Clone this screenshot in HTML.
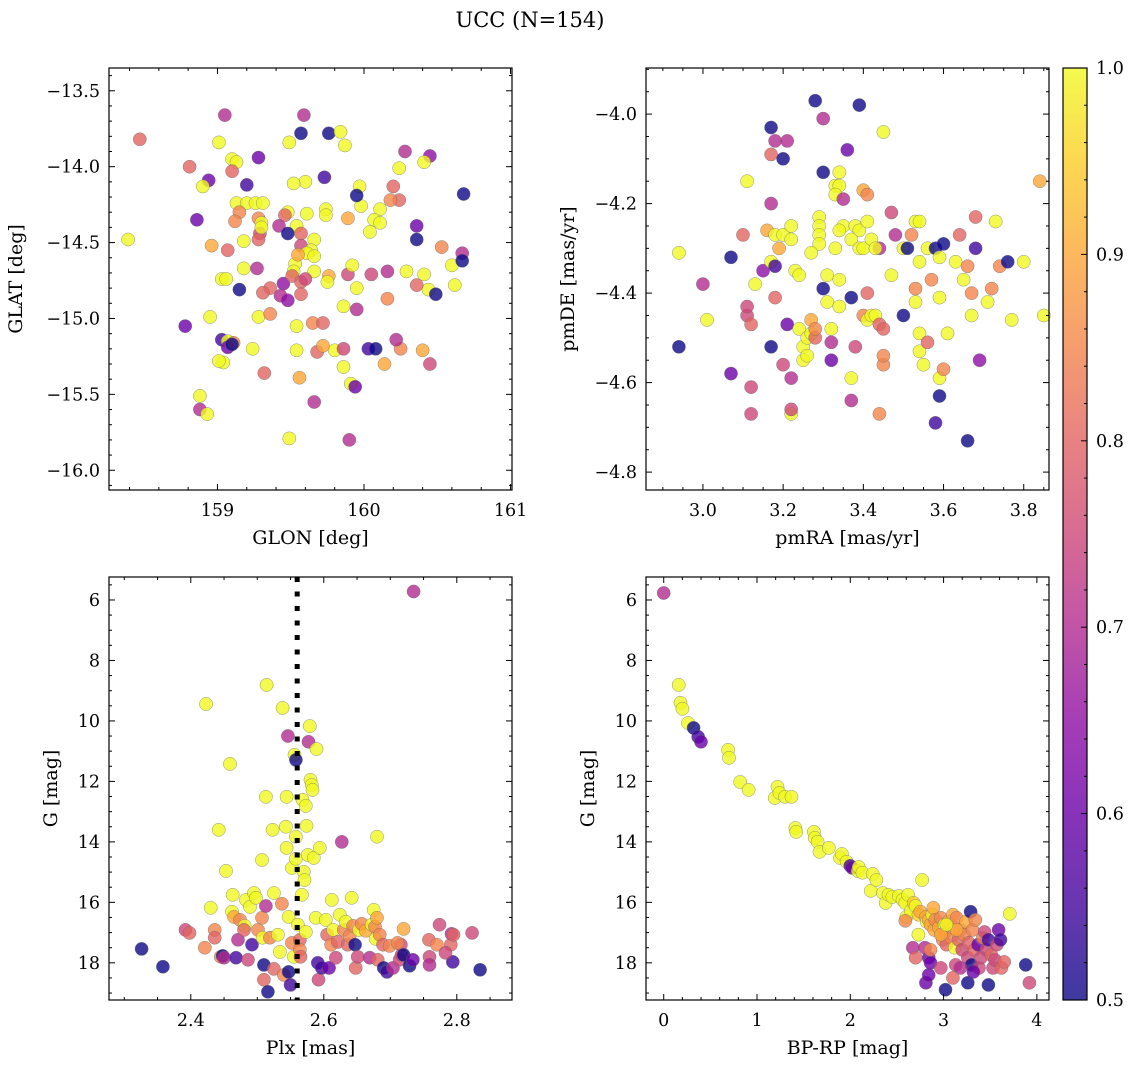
<!DOCTYPE html>
<html><head><meta charset="utf-8"><style>
html,body{margin:0;padding:0;background:#fff;}
svg{display:block;font-family:"DejaVu Serif","Liberation Serif",serif;}
</style></head><body>
<svg id="fig" width="1136" height="1067" viewBox="0 0 1136 1067" xmlns="http://www.w3.org/2000/svg">
<defs>
<linearGradient id="plasmaGrad" x1="0" y1="1" x2="0" y2="0">
<stop offset="0" stop-color="#0d0887"/><stop offset="0.1" stop-color="#41049d"/><stop offset="0.2" stop-color="#6a00a8"/><stop offset="0.3" stop-color="#8f0da4"/><stop offset="0.4" stop-color="#b12a90"/><stop offset="0.5" stop-color="#cc4778"/><stop offset="0.6" stop-color="#e16462"/><stop offset="0.7" stop-color="#f2844b"/><stop offset="0.8" stop-color="#fca636"/><stop offset="0.9" stop-color="#fcce25"/><stop offset="1" stop-color="#f0f921"/>
</linearGradient>
</defs>
<text x="530" y="27" text-anchor="middle" font-size="21">UCC (N=154)</text>
</svg>
<script>
// Panel 1: GLON / GLAT
const p1Lon=[158.47,158.39,158.81,159.05,159.01,159.59,159.57,159.76,159.84,159.87,
159.49,159.28,159.10,159.13,159.10,158.94,158.90,159.20,160.28,160.45,
160.41,160.24,160.24,160.11,159.98,159.97,159.95,159.73,159.60,159.52,
159.61,159.74,159.74,159.89,160.07,160.04,160.18,160.20,158.86,159.13,
159.20,159.26,159.31,159.15,159.28,159.30,159.12,159.29,159.28,159.18,
159.07,158.96,159.03,159.06,159.48,159.46,159.42,159.54,159.48,159.57,
159.57,159.66,159.64,159.61,159.53,159.52,159.66,159.66,160.36,160.36,
160.68,160.53,159.18,159.27,159.15,159.36,159.31,159.45,159.43,159.51,
159.57,159.57,159.60,159.76,159.75,159.89,159.92,159.95,160.05,160.29,
160.41,160.60,160.67,160.67,159.86,159.95,160.16,160.44,160.62,160.49,
159.28,159.36,159.54,159.65,159.72,158.78,158.95,159.03,159.07,159.07,
159.11,159.04,159.01,159.24,159.32,159.54,159.56,159.66,159.68,159.80,
159.86,160.03,160.08,160.14,160.25,160.22,160.40,160.45,159.86,158.88,
158.88,158.93,159.49,159.90,159.91,159.94,160.16,159.30,160.11,159.55,
159.48,159.72,160.36,159.10];
const p1Lat=[-13.82,-14.48,-14.00,-13.66,-13.84,-13.66,-13.78,-13.78,-13.77,-13.86,
-13.84,-13.94,-13.95,-13.97,-14.03,-14.09,-14.13,-14.12,-13.90,-13.93,
-13.97,-14.01,-14.22,-14.28,-14.26,-14.13,-14.19,-14.07,-14.10,-14.11,
-14.31,-14.28,-14.32,-14.34,-14.35,-14.43,-14.22,-14.13,-14.35,-14.24,
-14.24,-14.24,-14.24,-14.30,-14.34,-14.37,-14.36,-14.44,-14.48,-14.49,
-14.55,-14.52,-14.74,-14.74,-14.30,-14.32,-14.39,-14.39,-14.44,-14.44,
-14.52,-14.48,-14.55,-14.57,-14.64,-14.69,-14.59,-14.69,-14.39,-14.48,
-14.18,-14.53,-14.67,-14.67,-14.81,-14.80,-14.83,-14.77,-14.85,-14.72,
-14.76,-14.84,-14.74,-14.72,-14.76,-14.71,-14.65,-14.80,-14.71,-14.69,
-14.71,-14.65,-14.57,-14.62,-14.92,-14.94,-14.87,-14.81,-14.78,-14.84,
-14.99,-14.97,-15.05,-15.03,-15.03,-15.05,-14.99,-15.14,-15.15,-15.19,
-15.16,-15.29,-15.28,-15.20,-15.36,-15.21,-15.39,-15.55,-15.22,-15.21,
-15.20,-15.20,-15.20,-15.30,-15.20,-15.14,-15.21,-15.30,-15.32,-15.51,
-15.60,-15.63,-15.79,-15.80,-15.43,-15.45,-14.69,-14.40,-14.37,-14.58,
-14.88,-15.18,-14.78,-15.17];
const p1C=[0.8,1,0.8,0.7,1,0.7,0.5,0.5,1,1,
1,0.6,1,1,0.8,0.6,1,0.55,0.7,0.65,
1,1,0.8,1,1,1,0.5,0.55,1,1,
1,1,1,0.9,1,1,0.85,0.8,0.6,1,
1,1,1,0.85,0.85,1,0.85,0.75,0.8,1,
0.8,0.9,1,1,1,0.8,0.7,1,0.5,0.8,
0.75,1,1,1,1,1,1,1,0.6,0.5,
0.5,0.85,1,0.7,0.5,0.8,0.8,0.65,0.7,0.8,
0.8,0.8,0.75,0.9,1,0.75,1,1,0.75,1,
1,1,0.7,0.5,1,0.7,0.85,1,1,0.5,
1,0.85,1,0.85,0.8,0.6,1,0.55,1,0.6,
0.85,1,1,1,0.8,1,0.9,0.7,0.8,1,
0.75,0.55,0.5,0.9,0.85,0.7,0.9,0.75,1,1,
0.7,1,1,0.7,1,0.6,0.7,1,1,0.9,
0.65,0.9,0.8,0.5];

// Panel 2: pmRA / pmDE
const p2RA=[2.94,2.94,3.00,3.01,3.11,3.10,3.07,3.11,3.12,3.11,
3.12,3.12,3.07,3.17,3.17,3.18,3.20,3.21,3.17,3.16,
3.18,3.15,3.13,3.20,3.19,3.17,3.18,3.18,3.22,3.22,
3.23,3.24,3.21,3.17,3.20,3.22,3.22,3.22,3.24,3.25,
3.25,3.26,3.26,3.27,3.27,3.28,3.28,3.28,3.30,3.30,
3.29,3.29,3.29,3.29,3.27,3.31,3.30,3.31,3.32,3.32,
3.32,3.34,3.33,3.34,3.33,3.35,3.34,3.33,3.34,3.34,
3.35,3.36,3.38,3.39,3.37,3.39,3.38,3.37,3.37,3.37,
3.39,3.40,3.41,3.41,3.40,3.42,3.41,3.40,3.41,3.42,
3.43,3.44,3.43,3.44,3.45,3.45,3.45,3.45,3.47,3.48,
3.44,3.47,3.50,3.50,3.51,3.52,3.53,3.53,3.53,3.54,
3.54,3.54,3.54,3.55,3.56,3.56,3.57,3.58,3.59,3.59,
3.59,3.59,3.60,3.61,3.60,3.63,3.64,3.66,3.65,3.67,
3.68,3.67,3.68,3.69,3.71,3.72,3.73,3.74,3.76,3.77,
3.80,3.84,3.85,3.66,3.58];
const p2DE=[-4.31,-4.52,-4.38,-4.46,-4.15,-4.27,-4.32,-4.45,-4.47,-4.43,
-4.61,-4.67,-4.58,-4.03,-4.09,-4.06,-4.10,-4.06,-4.20,-4.26,
-4.27,-4.35,-4.38,-4.27,-4.30,-4.33,-4.34,-4.41,-4.25,-4.28,
-4.35,-4.36,-4.47,-4.52,-4.56,-4.59,-4.67,-4.66,-4.48,-4.52,
-4.55,-4.50,-4.54,-4.49,-4.46,-4.50,-4.48,-3.97,-4.01,-4.13,
-4.23,-4.25,-4.27,-4.29,-4.31,-4.36,-4.39,-4.42,-4.48,-4.51,
-4.55,-4.13,-4.16,-4.16,-4.18,-4.25,-4.26,-4.30,-4.37,-4.43,
-4.19,-4.08,-4.25,-4.26,-4.28,-4.30,-4.52,-4.64,-4.59,-4.41,
-3.98,-4.17,-4.18,-4.24,-4.30,-4.28,-4.40,-4.45,-4.46,-4.45,
-4.45,-4.30,-4.30,-4.47,-4.48,-4.04,-4.56,-4.54,-4.22,-4.27,
-4.67,-4.36,-4.30,-4.45,-4.30,-4.27,-4.24,-4.42,-4.39,-4.49,
-4.53,-4.24,-4.33,-4.56,-4.30,-4.51,-4.37,-4.30,-4.32,-4.41,
-4.59,-4.63,-4.57,-4.49,-4.29,-4.33,-4.27,-4.34,-4.37,-4.40,
-4.23,-4.45,-4.30,-4.55,-4.42,-4.39,-4.24,-4.34,-4.33,-4.46,
-4.33,-4.15,-4.45,-4.73,-4.69];
const p2C=[1,0.5,0.7,1,1,0.8,0.5,0.75,0.8,0.75,
0.75,0.75,0.6,0.5,0.8,0.7,0.5,0.7,0.7,0.9,
1,0.65,1,1,0.9,1,0.55,0.8,1,1,
1,1,0.6,0.5,0.75,0.7,1,0.75,1,1,
1,1,1,1,0.9,0.8,0.85,0.5,0.7,0.5,
1,1,1,1,1,1,0.5,1,1,0.7,
0.6,1,1,1,1,1,1,1,1,1,
0.7,0.6,1,1,1,1,0.75,0.7,1,0.5,
0.5,0.9,0.85,1,1,1,0.8,0.85,1,1,
1,0.7,1,0.8,0.8,1,0.85,0.85,0.75,0.7,
0.85,1,1,0.5,0.5,0.85,1,1,0.85,1,
1,1,1,1,1,0.8,0.85,0.5,1,1,
1,0.5,0.85,1,0.5,1,0.8,0.85,1,0.85,
0.8,1,0.55,0.65,1,0.85,1,0.85,0.5,1,
1,0.9,1,0.5,0.55];

// Panel 3: Plx / G
const p3Plx=[2.326,2.358,2.392,2.398,2.421,2.423,2.430,2.436,2.436,2.445,
2.442,2.448,2.450,2.453,2.459,2.463,2.468,2.471,2.462,2.465,
2.474,2.481,2.480,2.483,2.486,2.489,2.492,2.495,2.498,2.501,
2.507,2.507,2.510,2.513,2.514,2.513,2.508,2.510,2.516,2.519,
2.523,2.525,2.525,2.531,2.534,2.537,2.540,2.543,2.544,2.547,
2.538,2.546,2.544,2.547,2.550,2.552,2.555,2.556,2.552,2.558,
2.558,2.558,2.561,2.564,2.564,2.565,2.567,2.568,2.570,2.571,
2.573,2.574,2.573,2.576,2.577,2.579,2.580,2.582,2.583,2.585,
2.588,2.589,2.591,2.592,2.594,2.597,2.603,2.605,2.608,2.611,
2.612,2.614,2.618,2.621,2.624,2.627,2.630,2.633,2.636,2.639,
2.642,2.644,2.647,2.648,2.651,2.653,2.657,2.663,2.669,2.672,
2.675,2.677,2.678,2.680,2.680,2.681,2.684,2.689,2.690,2.695,
2.699,2.704,2.714,2.717,2.716,2.720,2.729,2.734,2.758,2.759,
2.759,2.770,2.774,2.791,2.792,2.794,2.795,2.835,2.735,2.823,
2.783,2.720,2.711];
const p3G=[17.54,18.13,16.91,17.01,17.50,9.44,16.18,16.91,17.17,17.80,
13.60,17.77,17.83,14.96,11.42,15.75,17.83,17.24,16.31,16.48,
16.58,16.78,16.91,15.92,17.90,16.15,17.40,15.69,15.85,16.91,
16.51,14.60,18.56,16.12,8.81,12.51,17.17,18.07,18.96,17.17,
13.60,15.69,18.20,17.07,17.64,16.05,18.40,13.50,14.20,16.48,
9.57,10.50,12.51,18.30,18.73,17.34,17.80,11.12,14.86,11.29,
13.83,14.56,16.74,17.24,17.57,17.80,15.75,12.61,14.99,15.26,
16.98,13.47,12.81,14.43,10.69,10.17,11.95,12.12,12.28,14.53,
16.51,10.93,18.00,18.56,14.20,18.17,16.58,17.07,18.17,17.40,
15.92,16.91,17.83,17.31,16.41,14.00,16.91,16.64,17.40,17.11,
15.85,16.78,17.40,18.17,17.80,16.91,16.71,16.94,17.83,16.74,
16.25,16.81,17.21,16.51,13.83,17.90,17.07,17.40,18.17,18.30,
17.44,18.17,17.90,17.74,17.40,17.74,18.10,17.90,17.24,17.80,
18.07,17.40,16.74,17.40,17.04,17.97,17.07,18.23,5.72,17.01,
17.67,16.88,17.34];
const p3C=[0.5,0.5,0.75,0.8,0.85,1,1,0.85,0.8,0.85,
1,0.5,0.7,1,1,1,0.55,0.7,1,0.9,
0.85,1,0.8,1,0.75,1,0.55,1,1,0.85,
0.85,1,0.8,0.7,1,1,1,0.5,0.5,0.85,
1,1,0.8,1,1,0.85,0.85,1,1,1,
1,0.7,1,0.5,0.55,0.85,1,1,1,0.5,
1,1,1,0.8,0.85,0.8,1,1,1,1,
1,1,1,1,0.7,1,1,1,1,1,
1,1,0.55,0.75,1,0.55,1,0.8,0.6,0.85,
1,1,0.75,0.8,1,0.7,0.85,1,0.8,0.85,
1,0.85,0.5,0.8,0.75,1,0.85,0.9,0.7,1,
1,0.85,1,0.9,1,0.8,0.85,0.8,0.5,0.55,
0.85,0.7,0.75,0.75,0.75,0.5,0.5,0.6,0.8,0.75,
0.7,0.85,0.75,0.8,0.7,0.55,0.8,0.5,0.7,0.75,
0.75,0.9,0.85];
const plxLine=[2.56];

// Panel 4: BP-RP / G
const p4BR=[0.00,0.16,0.18,0.20,0.26,0.32,0.37,0.40,0.69,0.70,
0.82,0.91,1.19,1.22,1.24,1.30,1.37,1.41,1.42,1.61,
1.62,1.65,1.67,1.77,1.89,1.91,1.96,2.00,2.02,2.08,
2.09,2.13,2.22,2.24,2.28,2.35,2.38,2.41,2.45,2.52,
2.56,2.59,2.60,2.62,2.65,2.68,2.70,2.73,2.75,2.77,
2.81,2.82,2.84,2.86,2.88,2.89,2.90,2.91,2.95,2.97,
2.98,2.99,3.01,3.02,3.03,3.05,3.08,3.10,3.11,3.12,
3.13,3.14,3.16,3.18,3.20,3.22,3.24,3.26,3.27,3.29,
3.30,3.31,3.33,3.34,3.37,3.38,3.40,3.42,3.44,3.46,
3.48,3.51,3.53,3.55,3.57,3.59,3.61,3.62,3.65,3.71,
3.88,3.92,2.84,2.86,3.02,2.81,2.80,2.67,2.70,2.84,
3.18,3.26,3.32,3.48,2.97,3.10,2.97,3.14,3.03,2.73,
2.59,2.86];
const p4G=[5.77,8.81,9.40,9.60,10.07,10.23,10.53,10.69,10.96,11.22,
12.02,12.28,12.55,12.18,12.38,12.51,12.51,13.54,13.67,13.67,
13.87,14.00,14.33,14.20,14.53,14.40,14.66,14.79,14.86,14.96,
14.83,15.02,15.62,15.06,15.26,15.69,16.02,15.75,15.82,15.79,
15.92,16.02,16.48,15.75,16.28,16.02,16.12,16.41,16.31,15.26,
16.48,16.64,16.58,16.74,16.41,16.18,16.91,16.58,16.84,16.51,
17.07,17.24,16.74,16.98,17.40,16.64,17.17,16.41,16.84,17.50,
18.07,16.51,17.24,16.91,17.57,17.07,16.64,17.83,17.34,16.31,
18.07,16.91,17.57,16.58,17.40,18.17,17.83,17.17,16.98,17.57,
17.24,17.74,18.17,17.90,17.40,16.91,17.24,18.17,17.97,16.38,
18.07,18.66,17.83,18.00,18.89,18.66,17.50,17.50,17.83,18.40,
18.17,18.66,18.30,18.73,18.17,18.50,17.07,16.91,16.74,17.07,
16.61,17.57];
const p4C=[0.7,1,1,1,1,0.5,0.55,0.6,1,1,
1,1,1,1,1,1,1,1,1,1,
1,1,1,1,1,1,1,0.55,0.6,1,
1,1,1,1,1,1,1,1,1,1,
1,1,1,1,1,0.95,1,0.95,0.9,1,
0.9,1,0.9,0.9,1,0.9,0.9,0.85,0.9,0.85,
0.9,0.85,1,0.85,0.8,0.9,0.85,0.9,0.9,1,
0.75,0.85,0.8,0.85,0.75,0.85,0.9,0.75,0.8,0.5,
0.5,0.85,0.8,0.85,0.6,0.75,0.75,0.85,0.75,0.75,
0.55,0.8,0.75,0.75,0.75,0.6,0.55,0.8,0.8,1,
0.5,0.75,0.6,0.6,0.5,0.6,0.7,0.7,0.8,0.6,
0.7,0.5,0.6,0.5,0.75,0.8,0.9,0.9,1,1,
0.85,0.85];

const cbTicks=[0.5,0.6,0.7,0.8,0.9,1.0];

const NS="http://www.w3.org/2000/svg";
const svg=document.getElementById('fig');
const plasma=[[13,8,135],[65,4,157],[106,0,168],[143,13,164],[177,42,144],[204,71,120],[225,100,98],[242,132,75],[252,166,54],[252,206,37],[240,249,33]];
function cmap(v){
  let t=(v-0.5)/0.5; t=Math.max(0,Math.min(1,t));
  const f=t*10, i=Math.min(9,Math.floor(f)), r=f-i;
  const a=plasma[i], b=plasma[i+1];
  return 'rgb('+a.map((x,k)=>Math.round(x+(b[k]-x)*r)).join(',')+')';
}
function mk(tag,attrs,parent){const e=document.createElementNS(NS,tag);for(const k in attrs)e.setAttribute(k,attrs[k]);(parent||svg).appendChild(e);return e;}
function fmt(v,d){const s=Math.abs(v).toFixed(d);return (v<-1e-9?'\u2212':'')+s;}

const panels=[
 {name:'sky',x0:109,x1:512,y0:68,y1:490,xmin:158.26,xmax:161.01,ytop:-13.35,ybot:-16.13,
  xs:p1Lon,ys:p1Lat,cs:p1C,xmaj:1,xmin_:0.2,xd:0,ymaj:0.5,ymin_:0.1,yd:1,xl:'GLON [deg]',yl:'GLAT [deg]',ylx:22},
 {name:'proper-motion',x0:646,x1:1049,y0:68,y1:490,xmin:2.858,xmax:3.863,ytop:-3.897,ybot:-4.84,
  xs:p2RA,ys:p2DE,cs:p2C,xmaj:0.2,xmin_:0.05,xd:1,ymaj:0.2,ymin_:0.05,yd:1,xl:'pmRA [mas/yr]',yl:'pmDE [mas/yr]',ylx:574},
 {name:'plx-mag',x0:109,x1:512,y0:577,y1:1000,xmin:2.277,xmax:2.883,ytop:5.24,ybot:19.23,
  xs:p3Plx,ys:p3G,cs:p3C,xmaj:0.2,xmin_:0.05,xd:1,ymaj:2,ymin_:0.5,yd:0,xl:'Plx [mas]',yl:'G [mag]',ylx:57},
 {name:'cmd',x0:646,x1:1049,y0:577,y1:1000,xmin:-0.19,xmax:4.13,ytop:5.24,ybot:19.23,
  xs:p4BR,ys:p4G,cs:p4C,xmaj:1,xmin_:0.2,xd:0,ymaj:2,ymin_:0.5,yd:0,xl:'BP-RP [mag]',yl:'G [mag]',ylx:594}
];

panels.forEach(p=>{
  const g=mk('g',{});
  
  
  const sx=v=>p.x0+(v-p.xmin)/(p.xmax-p.xmin)*(p.x1-p.x0);
  const sy=v=>p.y0+(v-p.ytop)/(p.ybot-p.ytop)*(p.y1-p.y0);
  const ylo=Math.min(p.ytop,p.ybot), yhi=Math.max(p.ytop,p.ybot);
  const pts=mk('g',{},g);
  
  
  for(let i=0;i<p.xs.length;i++){
    const c=mk('circle',{cx:sx(p.xs[i]).toFixed(1),cy:sy(p.ys[i]).toFixed(1),r:6.6,fill:cmap(p.cs[i]),'fill-opacity':0.8,stroke:'#666','stroke-width':0.5,'stroke-opacity':0.7},pts);
    
    
  }
  if(p.name==='plx-mag'){
    plxLine.forEach(v=>{
      const l=mk('line',{x1:sx(v),x2:sx(v),y1:p.y0,y2:p.y1,stroke:'#000','stroke-width':5,'stroke-dasharray':'5 9.5'},g);
      
      
    });
  }
  const fr=mk('rect',{x:p.x0,y:p.y0,width:p.x1-p.x0,height:p.y1-p.y0,fill:'none',stroke:'#000','stroke-width':1.2},g);
  
  
  const eps=1e-9;
  for(let v=Math.ceil((p.xmin-eps)/p.xmin_)*p.xmin_; v<=p.xmax+eps; v+=p.xmin_){
    const X=sx(v); const major=Math.abs(v/p.xmaj-Math.round(v/p.xmaj))<1e-4; const L=major?6:3;
    mk('line',{x1:X,x2:X,y1:p.y1,y2:p.y1-L,stroke:'#000','stroke-width':1},g);
    mk('line',{x1:X,x2:X,y1:p.y0,y2:p.y0+L,stroke:'#000','stroke-width':1},g);
    if(major){
      const t=mk('text',{x:X,y:p.y1+26,'text-anchor':'middle','font-size':17.5},g);
      
      
      t.textContent=fmt(Math.round(v/p.xmaj)*p.xmaj,p.xd);
    }
  }
  for(let v=Math.ceil((ylo-eps)/p.ymin_)*p.ymin_; v<=yhi+eps; v+=p.ymin_){
    const Y=sy(v); const major=Math.abs(v/p.ymaj-Math.round(v/p.ymaj))<1e-4; const L=major?6:3;
    mk('line',{x1:p.x0,x2:p.x0+L,y1:Y,y2:Y,stroke:'#000','stroke-width':1},g);
    mk('line',{x1:p.x1,x2:p.x1-L,y1:Y,y2:Y,stroke:'#000','stroke-width':1},g);
    if(major){
      const t=mk('text',{x:p.x0-9,y:Y+6,'text-anchor':'end','font-size':17.5},g);
      
      
      t.textContent=fmt(Math.round(v/p.ymaj)*p.ymaj,p.yd);
    }
  }
  const xt=mk('text',{x:(p.x0+p.x1)/2,y:p.y1+54,'text-anchor':'middle','font-size':19},g);
  
  
  xt.textContent=p.xl;
  const cy=(p.y0+p.y1)/2;
  const yt=mk('text',{x:p.ylx,y:cy,'text-anchor':'middle','font-size':19,transform:'rotate(-90 '+p.ylx+' '+cy+')'},g);
  
  
  yt.textContent=p.yl;
});

const cb=mk('g',{});


const cbx0=1063,cbx1=1087,cby0=68,cby1=1000;
const cbs=v=>cby1-(v-0.5)/0.5*(cby1-cby0);
mk('rect',{x:cbx0,y:cby0,width:cbx1-cbx0,height:cby1-cby0,fill:'url(#plasmaGrad)','fill-opacity':0.8},cb);
mk('rect',{x:cbx0,y:cby0,width:cbx1-cbx0,height:cby1-cby0,fill:'none',stroke:'#000','stroke-width':1.2},cb);
for(let k=0;k<=25;k++){
  const v=0.5+k*0.02; const Y=cbs(v); const major=k%5===0;
  mk('line',{x1:cbx1,x2:cbx1-(major?6:3),y1:Y,y2:Y,stroke:'#000','stroke-width':1},cb);
}
cbTicks.forEach(v=>{
  const t=mk('text',{x:cbx1+9,y:cbs(v)+6,'font-size':17.5},cb);
  
  
  t.textContent=v.toFixed(1);
});
</script>
</body></html>
